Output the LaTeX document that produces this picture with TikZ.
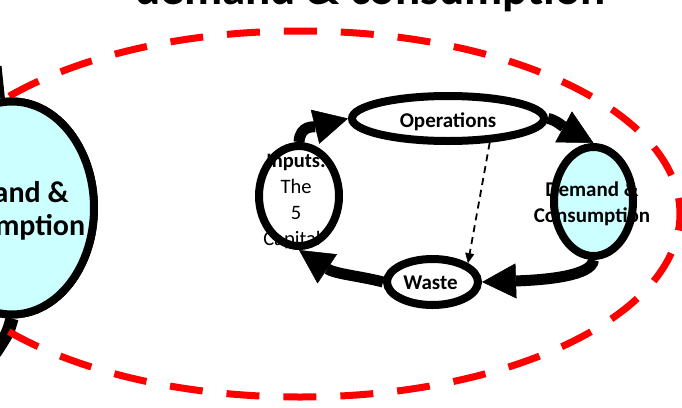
\documentclass[tikz,border=0pt]{standalone}
\usepackage{fontspec}
\setmainfont{Carlito}
\usetikzlibrary{arrows.meta,shapes.geometric}
\definecolor{paleaqua}{RGB}{204,255,255}
\begin{document}
\begin{tikzpicture}[x=1pt,y=-1pt,
  oval/.style={ellipse, draw=black, line width=8pt, fill=white, inner sep=0pt},
  bigflow/.style={line width=11pt, -{Triangle[length=34pt,width=35pt,line width=0.5pt]}},
  hint/.style={line width=1.8pt, dash pattern=on 7pt off 5pt, -{Triangle[length=10pt,width=9pt,line width=0.5pt]}},
  ring/.style={red, line width=7pt, dash pattern=on 33pt off 24pt, dash phase=16.5pt},
  lbl/.style={font=\bfseries\fontsize{21}{26}\selectfont, inner sep=0pt},
]
\useasboundingbox (0,0) rectangle (682,407);
\clip (0,0) rectangle (682,407);

% heading, mostly above the frame
\node[font=\bfseries\fontsize{47}{56}\selectfont, anchor=base, inner sep=0pt] (title) at (370.5,4) {demand \& consumption};

% enlarged demand node on the left, with the stubs of its flows
\node[oval, fill=paleaqua, minimum width=164pt, minimum height=213pt] (big) at (12,208) {};
\coordinate (cutA) at (-1,66);
\coordinate (cutB) at (-5,353);
\draw[line width=13pt] (big.-90) .. controls (8,333) .. (cutB);
\draw[line width=5pt] (cutA) -- (big.95);

% dashed red boundary
\draw[ring] (300,214) ellipse [x radius=380, y radius=183];

% redraw the big node above the boundary
\node[oval, fill=paleaqua, minimum width=164pt, minimum height=213pt] (bigtop) at (12,208) {};

% cycle nodes
\node[oval, minimum width=192pt, minimum height=45pt] (ops) at (448,118.5) {};
\node[oval, minimum width=80pt, minimum height=100pt] (inp) at (299,196) {};
\node[oval, fill=paleaqua, minimum width=79pt, minimum height=109pt] (dem) at (593.5,201.5) {};
\node[oval, minimum width=91pt, minimum height=46pt] (waste) at (432.5,282) {};

% flows
\draw[bigflow] (inp.north) .. controls (300,125) and (314,127) .. (ops.west);
\draw[bigflow] (ops.east) .. controls (556,120) and (562,126) .. (dem.north);
\draw[bigflow] (dem.south) .. controls (592,276) and (545,280) .. (waste.east);
\draw[bigflow] (waste.west) .. controls (360,276) and (335,274) .. (inp.south);
\draw[hint] (ops.-30) -- (waste.28);

% labels
\node[font=\bfseries\fontsize{30}{33}\selectfont, align=center, inner sep=0pt] (bigtxt) at (2,211) {Demand \&\\Consumption};
\node[lbl, anchor=base] (opstxt) at (448,127) {Operations};
\node[lbl, anchor=base] (wastetxt) at (430.5,289) {Waste};
\node[lbl, align=center] (demtxt) at (592,204) {Demand \&\\Consumption};
\node[font=\fontsize{20.5}{26}\selectfont, align=center, inner sep=0pt] (inptxt) at (296,202) {\textbf{Inputs:}\\The\\5\\Capital\phantom{s}};
\end{tikzpicture}
\end{document}
